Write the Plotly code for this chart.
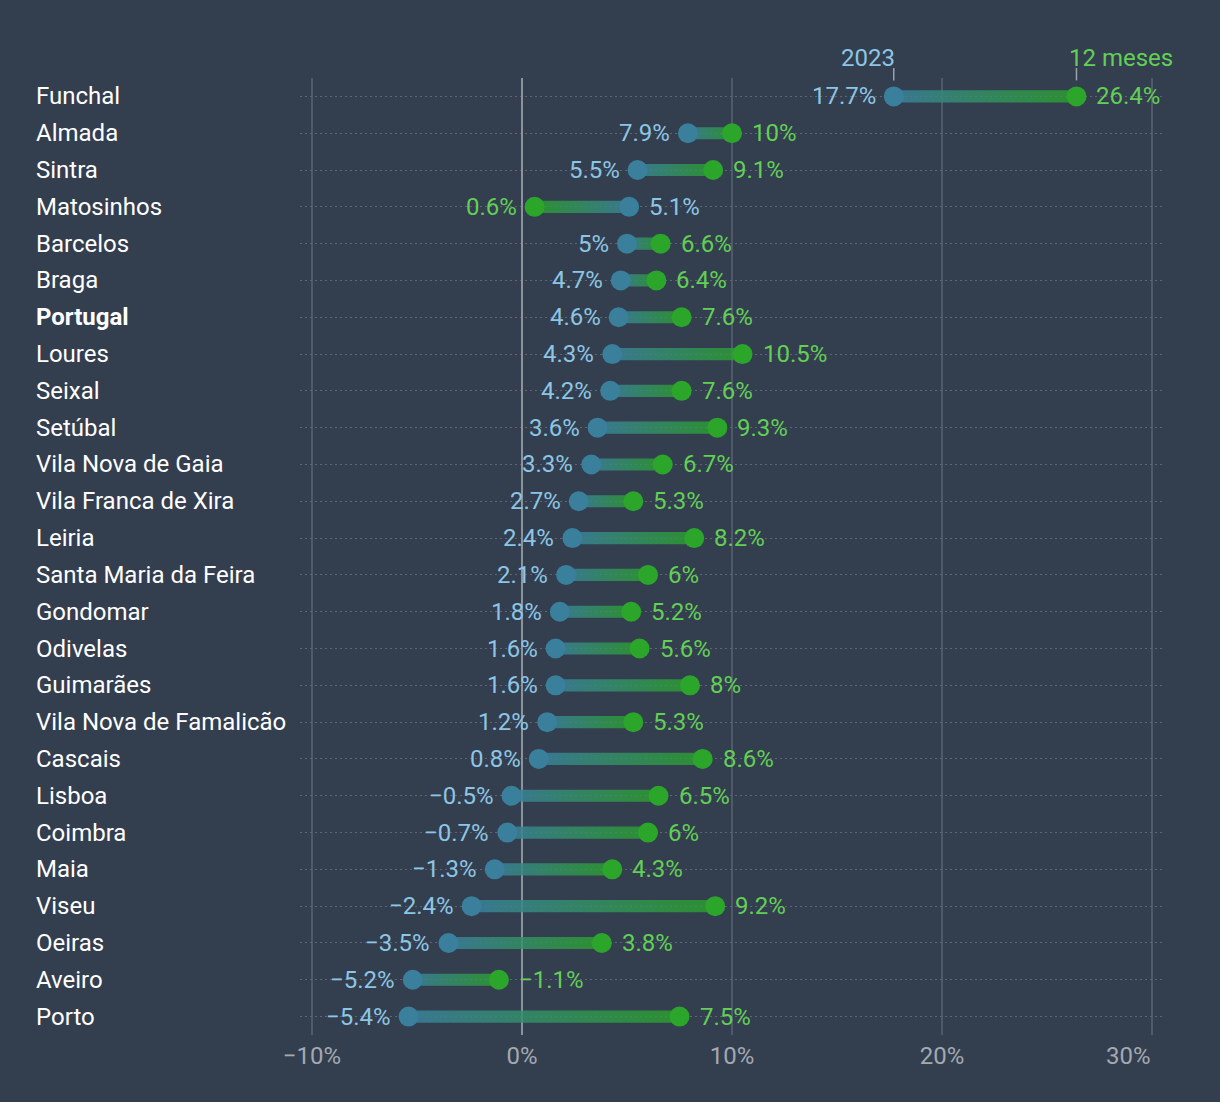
import plotly.graph_objects as go

cities = ["Funchal", "Almada", "Sintra", "Matosinhos", "Barcelos", "Braga", "Portugal",
          "Loures", "Seixal", "Setúbal", "Vila Nova de Gaia", "Vila Franca de Xira", "Leiria",
          "Santa Maria da Feira", "Gondomar", "Odivelas", "Guimarães", "Vila Nova de Famalicão",
          "Cascais", "Lisboa", "Coimbra", "Maia", "Viseu", "Oeiras", "Aveiro", "Porto"]
v2023 = [17.7, 7.9, 5.5, 5.1, 5.0, 4.7, 4.6, 4.3, 4.2, 3.6, 3.3, 2.7, 2.4, 2.1, 1.8, 1.6,
         1.6, 1.2, 0.8, -0.5, -0.7, -1.3, -2.4, -3.5, -5.2, -5.4]
v12m = [26.4, 10.0, 9.1, 0.6, 6.6, 6.4, 7.6, 10.5, 7.6, 9.3, 6.7, 5.3, 8.2, 6.0, 5.2, 5.6,
        8.0, 5.3, 8.6, 6.5, 6.0, 4.3, 9.2, 3.8, -1.1, 7.5]
tick_vals = [-10, 0, 10, 20, 30]
tick_text = ["−10%", "0%", "10%", "20%", "30%"]
series_names = ["2023", "12 meses"]
highlight = "Portugal"

BG = "#333e4f"
BLUE = "#3a7f9b"
GREEN = "#2ba62a"
BLUE_BAR = "rgba(58,127,155,0.88)"
GREEN_BAR = "rgba(43,166,42,0.78)"
BLUE_TXT = "#8cc6e4"
GREEN_TXT = "#62cf55"
TICK_TXT = "#a3a9b1"
FONT = "Roboto"


def fmt(v):
    return ("−" if v < 0 else "") + f"{abs(v):g}%"


n = len(cities)
ys = list(range(n))
h = 0.165

fig = go.Figure()

for i, (a, b) in enumerate(zip(v2023, v12m)):
    lo, hi = min(a, b), max(a, b)
    cs = [[0, BLUE_BAR], [1, GREEN_BAR]] if a <= b else [[0, GREEN_BAR], [1, BLUE_BAR]]
    fig.add_trace(go.Scatter(
        x=[lo, hi, hi, lo, lo], y=[i - h, i - h, i + h, i + h, i - h],
        mode="lines", line=dict(width=0), fill="toself",
        fillgradient=dict(type="horizontal", colorscale=cs),
        hoverinfo="skip", showlegend=False))

fig.add_trace(go.Scatter(x=v2023, y=ys, mode="markers", name=series_names[0],
                         marker=dict(size=20, color=BLUE), showlegend=False))
fig.add_trace(go.Scatter(x=v12m, y=ys, mode="markers", name=series_names[1],
                         marker=dict(size=20, color=GREEN), showlegend=False))

ann = []
for i, (c, a, b) in enumerate(zip(cities, v2023, v12m)):
    ann.append(dict(x=-266 / 863, xref="paper", y=i, yref="y", text=(f"<b>{c}</b>" if c == highlight else c),
                    xanchor="left", yanchor="middle", showarrow=False,
                    font=dict(family=FONT, size=24, color="#ffffff")))
    a_left = a <= b
    ann.append(dict(x=a, y=i, text=fmt(a), showarrow=False, yanchor="middle",
                    xanchor="right" if a_left else "left", xshift=-16 if a_left else 18,
                    font=dict(family=FONT, size=24, color=BLUE_TXT)))
    ann.append(dict(x=b, y=i, text=fmt(b), showarrow=False, yanchor="middle",
                    xanchor="left" if a_left else "right", xshift=18 if a_left else -16,
                    font=dict(family=FONT, size=24, color=GREEN_TXT)))

# last tick label kept inside the plot edge (right-aligned at its gridline)
ann.append(dict(x=tick_vals[-1], y=0, yref="paper", text=tick_text[-1], showarrow=False,
                xanchor="right", yanchor="top", yshift=-5, xshift=1,
                font=dict(family=FONT, size=24, color=TICK_TXT)))

# header labels above first row
ann.append(dict(x=v2023[0], y=1.0205, yref="paper", text=series_names[0], showarrow=False,
                xanchor="right", yanchor="middle", xshift=3,
                font=dict(family=FONT, size=24, color=BLUE_TXT)))
ann.append(dict(x=v12m[0], y=1.0205, yref="paper", text=series_names[1], showarrow=False,
                xanchor="left", yanchor="middle", xshift=-9,
                font=dict(family=FONT, size=24, color=GREEN_TXT)))

shapes = []
for xv in (v2023[0], v12m[0]):
    shapes.append(dict(type="line", xref="x", yref="paper", x0=xv, x1=xv,
                       y0=0.9975, y1=1.0105, line=dict(color="#9aa2ac", width=1.5)))

fig.update_layout(
    width=1220, height=1102,
    paper_bgcolor=BG, plot_bgcolor=BG,
    margin=dict(l=300, r=57, t=78, b=67),
    annotations=ann, shapes=shapes,
    showlegend=False,
    xaxis=dict(range=[-10.57, 30.52], tickvals=tick_vals, ticktext=tick_text[:-1] + [""],
               showgrid=True, gridcolor="#4f5968", gridwidth=2,
               zeroline=True, zerolinecolor="#8b939d", zerolinewidth=2,
               tickfont=dict(family=FONT, size=24, color=TICK_TXT),
               ticks="", ticklabelstandoff=4, fixedrange=True),
    yaxis=dict(range=[n - 0.5, -0.5], tickvals=ys, showticklabels=False,
               showgrid=True, gridcolor="#5c6674", gridwidth=1, griddash="2px,3px",
               zeroline=False, fixedrange=True),
)

fig.write_html("out.html", config={"displayModeBar": False},
               post_script="document.body.style.margin='0';document.body.style.background='" + BG + "';")
